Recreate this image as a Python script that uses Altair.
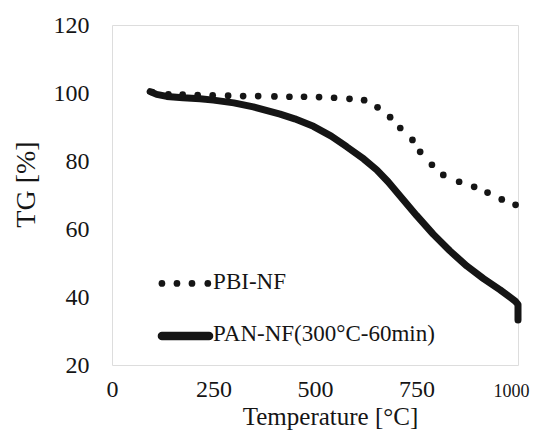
import altair as alt
import pandas as pd

# ---- data ----
PBI_T = [99, 139, 174, 211, 248, 286, 323, 360, 400, 437, 473, 510, 547, 585,
         621, 654, 685, 710, 740, 759, 788, 816, 855, 892, 925, 960, 994]
PBI_TG = [100.3, 99.6, 99.5, 99.4, 99.3, 99.2, 99.1, 99.1, 99.0, 98.9, 98.9, 98.8,
          98.6, 98.3, 97.9, 95.8, 92.9, 89.7, 86.2, 82.7, 78.9, 75.9, 73.9, 72.4,
          70.7, 68.7, 67.1]

PAN_T = [94, 110, 135, 175, 217, 250, 300, 348, 414, 450, 496, 540, 578, 620,
         652, 680, 709, 750, 791, 832, 874, 915, 956, 993, 1000, 1000]
PAN_TG = [100.4, 99.6, 99.0, 98.6, 98.3, 97.9, 97.1, 95.9, 93.8, 92.4, 90.2, 87.3,
          84.2, 80.6, 77.4, 73.9, 69.8, 64.0, 58.5, 53.6, 49.1, 45.4, 42.1, 38.8,
          37.8, 33.2]

SERIES = ["PBI-NF", "PAN-NF(300°C-60min)"]
X_TICKS = [0, 250, 500, 750, 1000]
Y_TICKS = [20, 40, 60, 80, 100, 120]

# legend placement (in data units of the plot)
LEG_DOT_T = [123, 160, 197, 236]
LEG_PBI_TG = 44.0
LEG_LINE_T = [123, 239]
LEG_PAN_TG = 28.5
LEG_TEXT_T = 249
LEG_TEXT_TG = [42.5, 27.2]

FONT = "Liberation Serif"
INK = "#151515"

pbi = pd.DataFrame({"T": PBI_T, "TG": PBI_TG})
pan = pd.DataFrame({"T": PAN_T, "TG": PAN_TG, "i": list(range(len(PAN_T)))})
leg_dots = pd.DataFrame({"T": LEG_DOT_T, "TG": [LEG_PBI_TG] * len(LEG_DOT_T)})
leg_line = pd.DataFrame({"T": LEG_LINE_T, "TG": [LEG_PAN_TG] * len(LEG_LINE_T)})
leg_text = pd.DataFrame({"T": [LEG_TEXT_T] * 2, "TG": LEG_TEXT_TG, "label": SERIES})

LAST = "datum.value == 1000"

x_enc = alt.X(
    "T:Q",
    scale=alt.Scale(domain=[0, 1000], nice=False, zero=False),
    axis=alt.Axis(
        values=X_TICKS, format="d", title="Temperature [°C]", grid=False, ticks=False,
        domain=False, labelFont=FONT,
        labelFontSize={"condition": {"test": LAST, "value": 18}, "value": 24},
        labelOffset={"condition": {"test": LAST, "value": -7}, "value": 0},
        labelColor=INK, labelPadding=31,
        labelBaseline="alphabetic", labelFlush=False, labelOverlap=False,
        titleFont=FONT, titleFontSize=25, titleFontWeight="normal", titleColor=INK,
        titleX=218, titleY=59, titleBaseline="alphabetic", titleAlign="center",
    ),
)
y_enc = alt.Y(
    "TG:Q",
    scale=alt.Scale(domain=[20, 120], nice=False, zero=False),
    axis=alt.Axis(
        values=Y_TICKS, format="d", title="TG [%]", grid=False, ticks=False, domain=False,
        labelFont=FONT, labelFontSize=24, labelColor=INK, labelPadding=23,
        labelFlush=False, labelOverlap=False,
        titleFont=FONT, titleFontSize=28, titleFontWeight="normal", titleColor=INK,
        titleAngle=270, titleX=-78, titleY=159, titleBaseline="alphabetic",
        titleAlign="center",
    ),
)

pan_line = alt.Chart(pan).mark_line(
    color=INK, strokeWidth=7, strokeCap="round", strokeJoin="round"
).encode(x=x_enc, y=y_enc, order="i:Q")

pbi_dots = alt.Chart(pbi).mark_circle(color=INK, size=45, opacity=1).encode(x=x_enc, y=y_enc)

legend_line = alt.Chart(leg_line).mark_line(
    color=INK, strokeWidth=8.5, strokeCap="round"
).encode(x=x_enc, y=y_enc)

legend_dots = alt.Chart(leg_dots).mark_circle(color=INK, size=45, opacity=1).encode(x=x_enc, y=y_enc)

legend_text = alt.Chart(leg_text).mark_text(
    align="left", baseline="alphabetic", font=FONT, fontSize=23, color=INK
).encode(x=x_enc, y=y_enc, text="label:N")

chart = alt.layer(pan_line, pbi_dots, legend_line, legend_dots, legend_text).properties(
    width=406, height=340,
    autosize=alt.AutoSizeParams(type="none"),
    padding={"left": 104, "top": 17, "right": 13, "bottom": 65},
).configure_view(stroke="#111111", strokeWidth=1.8).configure(background="white")

chart.save("out.html", embed_options={"renderer": "svg", "actions": False})
